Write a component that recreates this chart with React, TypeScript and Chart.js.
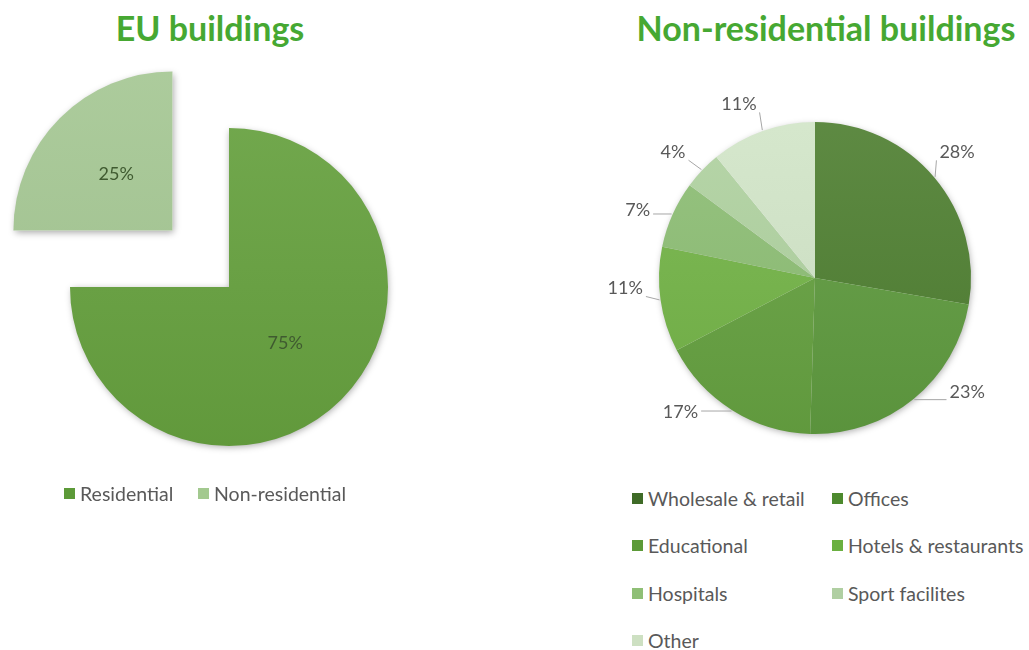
import React, { useEffect, useRef } from "react";
import { Chart, registerables } from "chart.js";

Chart.register(...registerables);

// ---------- data ----------
const euTitle = "EU buildings";
const euLabels = ["Residential", "Non-residential"];
const euValues = [75, 25];
const euColors = ["#64a03c", "#a6c994"];
const euLegendColors = ["#5c9a38", "#a3c98f"];

const nrTitle = "Non-residential buildings";
const nrLabels = [
  "Wholesale & retail",
  "Offices",
  "Educational",
  "Hotels & restaurants",
  "Hospitals",
  "Sport facilites",
  "Other",
];
const nrValues = [28, 23, 17, 11, 7, 4, 11];
const nrColors = ["#4e7f30", "#5e9a3e", "#64a13f", "#73b446", "#8dbe74", "#b0d3a0", "#d3e6c9"];
const nrLegendColors = ["#3f6b27", "#4d8a2e", "#5c9a38", "#6ab040", "#8fbf76", "#b0cfa2", "#cde0c2"];

const FONT = "Lato, 'Open Sans', sans-serif";
const TEXT_GREY = "#595959";
const TITLE_GREEN = "#46a832";

// ---------- helpers ----------
const pct = (v: number, data: number[]) => {
  const total = data.reduce((a, b) => a + b, 0);
  return Math.round((v / total) * 100) + "%";
};

function shade(hex: string, amt: number) {
  const n = parseInt(hex.slice(1), 16);
  let r = (n >> 16) & 255, g = (n >> 8) & 255, b = n & 255;
  const f = (c: number) => Math.max(0, Math.min(255, Math.round(amt > 0 ? c + (255 - c) * amt : c * (1 + amt))));
  r = f(r); g = f(g); b = f(b);
  return `rgb(${r},${g},${b})`;
}

function gradientFill(colors: string[]) {
  return (context: any) => {
    const chart = context.chart;
    const base = colors[context.dataIndex % colors.length];
    const area = chart.chartArea;
    if (!area) return base;
    const g = chart.ctx.createLinearGradient(0, area.top, 0, area.bottom);
    g.addColorStop(0, shade(base, 0.1));
    g.addColorStop(1, shade(base, -0.06));
    return g;
  };
}

// ---------- plugins ----------
const sliceShadow = {
  id: "sliceShadow",
  beforeDatasetsDraw(chart: any) {
    const ctx = chart.ctx;
    const meta = chart.getDatasetMeta(0);
    meta.data.forEach((el: any) => {
      const p = el.getProps(["x", "y", "startAngle", "endAngle", "outerRadius"], true);
      const mid = (p.startAngle + p.endAngle) / 2;
      const shift = (el.options.offset || 0) / 4;
      ctx.save();
      ctx.translate(Math.cos(mid) * shift, Math.sin(mid) * shift);
      ctx.shadowColor = "rgba(0,0,0,0.35)";
      ctx.shadowBlur = 7;
      ctx.shadowOffsetX = 1;
      ctx.shadowOffsetY = 2;
      ctx.fillStyle = "#ffffff";
      ctx.beginPath();
      ctx.moveTo(p.x, p.y);
      ctx.arc(p.x, p.y, p.outerRadius - 1, p.startAngle, p.endAngle);
      ctx.closePath();
      ctx.fill();
      ctx.restore();
    });
  },
};

const insideLabels = {
  id: "insideLabels",
  afterDatasetsDraw(chart: any, _args: any, opts: any) {
    const ctx = chart.ctx;
    const meta = chart.getDatasetMeta(0);
    const data = chart.data.datasets[0].data as number[];
    ctx.save();
    ctx.font = opts.font;
    ctx.fillStyle = opts.color;
    ctx.textAlign = "center";
    ctx.textBaseline = "middle";
    meta.data.forEach((el: any, i: number) => {
      const p = el.getProps(["x", "y", "startAngle", "endAngle", "outerRadius"], true);
      const mid = (p.startAngle + p.endAngle) / 2;
      const shift = (el.options.offset || 0) / 4;
      const d = shift + p.outerRadius * opts.radiusFactor;
      ctx.fillText(pct(data[i], data), p.x + Math.cos(mid) * d, p.y + Math.sin(mid) * d);
    });
    ctx.restore();
  },
};

const outsideLabels = {
  id: "outsideLabels",
  afterDatasetsDraw(chart: any, _args: any, opts: any) {
    const ctx = chart.ctx;
    const meta = chart.getDatasetMeta(0);
    const data = chart.data.datasets[0].data as number[];
    ctx.save();
    ctx.font = opts.font;
    ctx.textAlign = "center";
    ctx.textBaseline = "middle";
    meta.data.forEach((el: any, i: number) => {
      const p = el.getProps(["x", "y", "startAngle", "endAngle", "outerRadius"], true);
      const mid = (p.startAngle + p.endAngle) / 2;
      const ang = mid + ((opts.nudge[i] || 0) * Math.PI) / 180;
      const lr = p.outerRadius + opts.distance;
      const lx = p.x + Math.cos(ang) * lr;
      const ly = p.y + Math.sin(ang) * lr;
      const text = pct(data[i], data);
      const w = ctx.measureText(text).width;
      const h = opts.boxHeight;
      const bx0 = lx - w / 2 - 3, bx1 = lx + w / 2 + 3;
      const by0 = ly - h / 2 - 1, by1 = ly + h / 2 + 1;
      const ex = p.x + Math.cos(mid) * (p.outerRadius + 1);
      const ey = p.y + Math.sin(mid) * (p.outerRadius + 1);
      const cx = Math.min(Math.max(ex, bx0), bx1);
      const cy = Math.min(Math.max(ey, by0), by1);
      ctx.strokeStyle = opts.lineColor;
      ctx.lineWidth = 1;
      ctx.beginPath();
      ctx.moveTo(ex, ey);
      ctx.lineTo(cx, cy);
      ctx.stroke();
      ctx.fillStyle = opts.color;
      ctx.fillText(text, lx, ly);
    });
    ctx.restore();
  },
};

// ---------- components ----------
function PieCanvas({ config, style }: { config: any; style: React.CSSProperties }) {
  const ref = useRef<HTMLCanvasElement | null>(null);
  useEffect(() => {
    if (!ref.current) return;
    const chart = new Chart(ref.current, config);
    return () => chart.destroy();
  }, []);
  return (
    <div style={{ position: "absolute", ...style }}>
      <canvas ref={ref} />
    </div>
  );
}

function LegendItem({ color, label }: { color: string; label: string }) {
  return (
    <div style={{ display: "flex", alignItems: "center", whiteSpace: "nowrap", height: 24 }}>
      <span style={{ width: 11, height: 11, background: color, display: "inline-block", marginRight: 5 }} />
      <span>{label}</span>
    </div>
  );
}

export default function App() {
  useEffect(() => {
    document.body.style.margin = "0";
  }, []);

  const euConfig = {
    type: "pie",
    data: {
      labels: euLabels,
      datasets: [
        {
          data: euValues,
          backgroundColor: gradientFill(euColors),
          borderWidth: 0,
          offset: [0, 320],
          radius: 159,
        },
      ],
    },
    options: {
      animation: false,
      responsive: true,
      maintainAspectRatio: false,
      layout: { padding: 0 },
      plugins: {
        legend: { display: false },
        tooltip: { enabled: false },
        insideLabels: { font: `18px ${FONT}`, color: "#3f5a30", radiusFactor: 0.5 },
      },
    },
    plugins: [sliceShadow, insideLabels],
  };

  const nrConfig = {
    type: "pie",
    data: {
      labels: nrLabels,
      datasets: [
        {
          data: nrValues,
          backgroundColor: gradientFill(nrColors),
          borderWidth: 0,
          radius: 156,
        },
      ],
    },
    options: {
      animation: false,
      responsive: true,
      maintainAspectRatio: false,
      layout: { padding: 0 },
      plugins: {
        legend: { display: false },
        tooltip: { enabled: false },
        outsideLabels: {
          font: `18px ${FONT}`,
          color: TEXT_GREY,
          lineColor: "#a6a6a6",
          distance: 34,
          boxHeight: 15,
          nudge: [-1.5, -14, 13, 5, -3, -2, -4],
        },
      },
    },
    plugins: [sliceShadow, outsideLabels],
  };

  const titleStyle: React.CSSProperties = {
    position: "absolute",
    top: 8,
    transform: "translateX(-50%)",
    fontFamily: FONT,
    fontWeight: 700,
    fontSize: 34,
    color: TITLE_GREEN,
    whiteSpace: "nowrap",
    lineHeight: "40px",
  };

  const legendText: React.CSSProperties = {
    fontFamily: FONT,
    fontSize: 19.5,
    color: TEXT_GREY,
  };

  return (
    <div style={{ position: "relative", width: 1029, height: 650, overflow: "hidden", background: "#fff" }}>
      <div style={{ ...titleStyle, left: 210 }}>{euTitle}</div>
      <div style={{ ...titleStyle, left: 826 }}>{nrTitle}</div>

      <PieCanvas config={euConfig} style={{ left: 0, top: 60, width: 458, height: 454 }} />
      <PieCanvas config={nrConfig} style={{ left: 580, top: 80, width: 470, height: 396 }} />

      <div style={{ position: "absolute", left: 64, top: 481, height: 24, ...legendText }}>
        <div style={{ position: "absolute", left: 0, top: 0 }}>
          <LegendItem color={euLegendColors[0]} label={euLabels[0]} />
        </div>
        <div style={{ position: "absolute", left: 134, top: 0 }}>
          <LegendItem color={euLegendColors[1]} label={euLabels[1]} />
        </div>
      </div>

      <div
        style={{
          position: "absolute",
          left: 632,
          top: 486,
          display: "grid",
          gridTemplateColumns: "200px 200px",
          gridAutoRows: "47.5px",
          ...legendText,
        }}
      >
        {nrLabels.map((l, i) => (
          <div key={l}>
            <LegendItem color={nrLegendColors[i]} label={l} />
          </div>
        ))}
      </div>
    </div>
  );
}
